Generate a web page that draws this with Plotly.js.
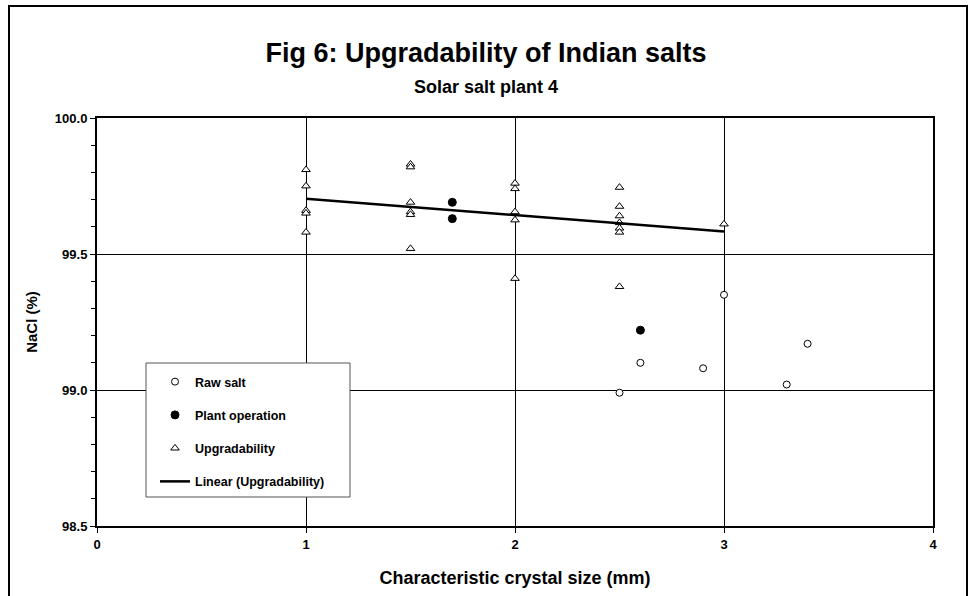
<!DOCTYPE html>
<html>
<head>
<meta charset="utf-8">
<script src="https://cdn.plot.ly/plotly-3.0.1.min.js"></script>
<style>
  html, body { margin: 0; padding: 0; background: #fff; }
  #chart { width: 972px; height: 596px; }
</style>
</head>
<body>
<div id="chart"></div>
<script>
// ---- data ----
var rawX = [2.5, 2.6, 2.9, 3.0, 3.3, 3.4];
var rawY = [98.99, 99.10, 99.08, 99.35, 99.02, 99.17];

var plantX = [1.7, 1.7, 2.6];
var plantY = [99.69, 99.63, 99.22];

var upX = [1, 1, 1, 1, 1,
           1.5, 1.5, 1.5, 1.5, 1.5, 1.5,
           2, 2, 2, 2, 2,
           2.5, 2.5, 2.5, 2.5, 2.5, 2.5, 2.5,
           3];
var upY = [99.81, 99.75, 99.66, 99.65, 99.58,
           99.83, 99.82, 99.69, 99.655, 99.645, 99.52,
           99.76, 99.74, 99.655, 99.625, 99.41,
           99.745, 99.675, 99.64, 99.615, 99.595, 99.58, 99.38,
           99.61];

var xTickVals = [0, 1, 2, 3, 4];
var xTickText = ['0', '1', '2', '3', '4'];
var yTickVals = [98.5, 99.0, 99.5, 100.0];
var yTickText = ['98.5', '99.0', '99.5', '100.0'];

// ---- linear trendline (least squares) of the upgradability series ----
function linFit(xs, ys) {
  var n = xs.length, sx = 0, sy = 0, sxx = 0, sxy = 0;
  for (var i = 0; i < n; i++) { sx += xs[i]; sy += ys[i]; sxx += xs[i]*xs[i]; sxy += xs[i]*ys[i]; }
  var b = (n*sxy - sx*sy) / (n*sxx - sx*sx);
  var a = (sy - b*sx) / n;
  return {a: a, b: b};
}
var fit = linFit(upX, upY);
var trendX = [Math.min.apply(null, upX), Math.max.apply(null, upX)];
var trendY = trendX.map(function (x) { return fit.a + fit.b * x; });

var FONT = 'Liberation Sans, Arial, Helvetica, sans-serif';
function bold(arr) { return arr.map(function (s) { return '<b>' + s + '</b>'; }); }

var traces = [
  { x: rawX, y: rawY, type: 'scatter', mode: 'markers', name: '<b>Raw salt</b>',
    legendgroup: 'a',
    marker: { symbol: 'circle', size: 7, color: '#fff', line: { color: '#000', width: 1 } } },
  { x: plantX, y: plantY, type: 'scatter', mode: 'markers', name: '<b>Plant operation</b>',
    legendgroup: 'b',
    marker: { symbol: 'circle', size: 8, color: '#000', line: { color: '#000', width: 1 } } },
  { x: upX, y: upY, type: 'scatter', mode: 'markers', name: '<b>Upgradability</b>',
    legendgroup: 'c',
    marker: { symbol: 'triangle-up', size: 7.5, color: '#fff', line: { color: '#000', width: 1 } } },
  { x: trendX, y: trendY, type: 'scatter', mode: 'lines', name: '<b>Linear (Upgradability)</b>',
    legendgroup: 'd',
    line: { color: '#000', width: 2.5 } }
];

// plot area in pixels: left 97, right 933, top 118, bottom 526
var L = 97, R = 933, T = 118, B = 526, W = R - L, H = B - T;
function px2x(p) { return (p - L) / W; }
function py2y(p) { return (B - p) / H; }

var layout = {
  width: 972, height: 596,
  margin: { l: L, r: 972 - R, t: T, b: 596 - B, pad: 0 },
  paper_bgcolor: '#fff', plot_bgcolor: '#fff',
  font: { family: FONT, color: '#000', size: 13 },
  showlegend: true,
  title: { text: '<b>Fig 6: Upgradability of Indian salts</b>', x: 0.5, xref: 'container', xanchor: 'center',
           y: 1 - 53 / 596, yref: 'container', yanchor: 'middle',
           font: { family: FONT, size: 27, color: '#000' } },
  xaxis: {
    range: [0, 4], tickvals: xTickVals, ticktext: bold(xTickText),
    showgrid: true, gridcolor: '#000', gridwidth: 1, zeroline: false,
    showline: true, linecolor: '#000', linewidth: 2, mirror: true,
    ticks: 'outside', ticklen: 5, tickcolor: '#000', tickwidth: 1,
    tickfont: { family: FONT, size: 13 },
    title: { text: '<b>Characteristic crystal size (mm)</b>', standoff: 21,
             font: { family: FONT, size: 18 } }
  },
  yaxis: {
    range: [98.5, 100], tickvals: yTickVals, ticktext: bold(yTickText),
    showgrid: true, gridcolor: '#000', gridwidth: 1, zeroline: false,
    showline: true, linecolor: '#000', linewidth: 2, mirror: true,
    ticks: 'outside', ticklen: 5, tickcolor: '#000', tickwidth: 1,
    minor: { dtick: 0.1, ticks: 'outside', ticklen: 4, tickcolor: '#000', tickwidth: 1, showgrid: false },
    tickfont: { family: FONT, size: 13 },
    title: { text: '<b>NaCl (%)</b>', standoff: 14, font: { family: FONT, size: 15 } }
  },
  legend: {
    x: px2x(155), y: py2y(367), xanchor: 'left', yanchor: 'top',
    bgcolor: 'rgba(0,0,0,0)', borderwidth: 0,
    traceorder: 'grouped', tracegroupgap: 14,
    font: { family: FONT, size: 12.5, color: '#000' }
  },
  annotations: [
    { text: '<b>Solar salt plant 4</b>', xref: 'paper', yref: 'paper', x: px2x(486), y: py2y(87),
      xanchor: 'center', yanchor: 'middle', showarrow: false,
      font: { family: FONT, size: 18, color: '#000' } }
  ],
  shapes: [
    // legend box (opaque, covers gridlines)
    { type: 'rect', xref: 'paper', yref: 'paper', layer: 'above',
      x0: px2x(146), x1: px2x(350), y0: py2y(497), y1: py2y(363),
      fillcolor: '#fff', line: { color: '#555', width: 1 } },
    // outer chart border
    { type: 'rect', xref: 'paper', yref: 'paper', layer: 'above',
      x0: px2x(9), x1: px2x(967), y0: py2y(604), y1: py2y(6),
      fillcolor: 'rgba(0,0,0,0)', line: { color: '#000', width: 2 } }
  ],
  hovermode: false
};

Plotly.newPlot('chart', traces, layout, { staticPlot: true, displayModeBar: false });
</script>
</body>
</html>
